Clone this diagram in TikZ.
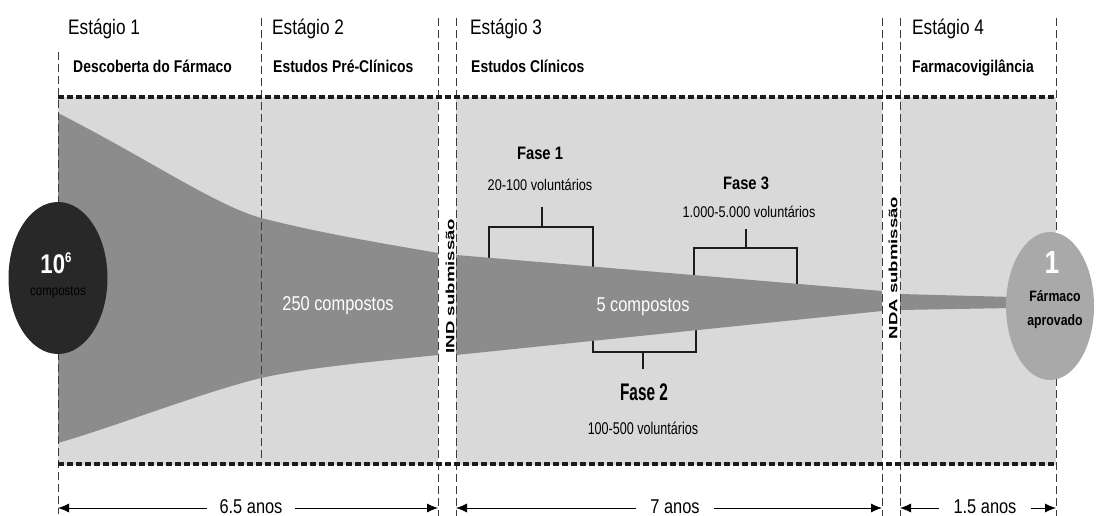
\documentclass[tikz,border=0pt]{standalone}
\usepackage{fontspec}
\setmainfont{Liberation Sans}
\newfontfamily\nar{Liberation Sans}[FakeStretch=0.82]
\newfontfamily\narf{Liberation Sans}[FakeStretch=0.64]
\newfontfamily\narv{Liberation Sans}[FakeStretch=0.74]
\newfontfamily\widebold{Liberation Sans}[FakeStretch=1.55]
\usetikzlibrary{shapes.geometric,arrows.meta}
\definecolor{panelgray}{HTML}{D9D9D9}
\definecolor{funnelgray}{HTML}{8C8C8C}
\definecolor{darkcirc}{HTML}{282828}
\definecolor{lightcirc}{HTML}{A9A9A9}
\definecolor{linedark}{HTML}{1C1C1C}
\definecolor{vline}{HTML}{3A3A3A}
\tikzset{
  panel/.style={fill=panelgray, draw=none},
  funnel/.style={fill=funnelgray, draw=none},
  hdash/.style={draw=linedark, line width=3.2pt, dash pattern=on 6pt off 3pt},
  vdash/.style={draw=vline, line width=0.8pt, dash pattern=on 8pt off 4pt},
  bracket/.style={draw=linedark, line width=2.6pt},
  stagetitle/.style={anchor=base west, inner sep=0pt, font=\nar\fontsize{21}{21}\selectfont},
  stagesub/.style={anchor=base west, inner sep=0pt, font=\nar\bfseries\fontsize{17}{17}\selectfont},
  fase/.style={inner sep=0pt, font=\nar\bfseries\fontsize{18}{18}\selectfont},
  vol/.style={inner sep=0pt, font=\nar\fontsize{15.5}{15.5}\selectfont},
  count/.style={inner sep=0pt, text=white, font=\nar\fontsize{20}{20}\selectfont},
  subm/.style={inner sep=0pt, rotate=90, font=\widebold\bfseries\fontsize{12}{12}\selectfont},
  years/.style={anchor=base, inner xsep=12pt, inner ysep=0pt, text depth=0pt, font=\nar\fontsize{20}{20}\selectfont},
  arr/.style={draw=black, line width=0.8pt, -{Latex[length=11pt,width=9pt]}}
}
\begin{document}
\begin{tikzpicture}[x=1pt,y=-1pt]
\useasboundingbox (0,0) rectangle (1096,516);
% panels
\fill[panel] (58,97) rectangle (438,465);
\fill[panel] (456,97) rectangle (882,465);
\fill[panel] (900,97) rectangle (1056,465);
% brackets
\draw[bracket] (489,285) -- (489,227) -- (593,227) -- (593,285);
\draw[bracket] (542,227) -- (542,207);
\draw[bracket] (694,295) -- (694,248) -- (797,248) -- (797,295);
\draw[bracket] (746,248) -- (746,229);
\draw[bracket] (593,320) -- (593,352) -- (696,352) -- (696,315);
\draw[bracket] (643,352) -- (643,369);
% funnels
\fill[funnel] (58,113) .. controls (150,160) and (215,205) .. (261,218)
  .. controls (320,233) and (380,243) .. (438,253)
  -- (438,355) .. controls (380,361) and (310,367) .. (261,378)
  .. controls (200,393) and (120,425) .. (58,443) -- cycle;
\fill[funnel] (456,255) -- (882,291) -- (882,311) -- (456,355) -- cycle;
\fill[funnel] (900,294) -- (1012,297) -- (1012,308) -- (900,310) -- cycle;
% vertical dashed lines
\draw[vdash] (58,52) -- (58,514);
\draw[vdash] (261,18) -- (261,465);
\draw[vdash] (438,18) -- (438,516);
\draw[vdash] (456,18) -- (456,516);
\draw[vdash] (882,18) -- (882,516);
\draw[vdash] (900,18) -- (900,516);
\draw[vdash] (1056,18) -- (1056,516);
% horizontal dashed lines
\draw[hdash] (58,97) -- (1056,97);
\draw[hdash] (58,464) -- (1056,464);
% circles
\node[ellipse, fill=darkcirc, minimum width=99pt, minimum height=152pt, inner sep=0pt] (start) at (58,278) {};
\node[ellipse, fill=lightcirc, minimum width=88pt, minimum height=148pt, inner sep=0pt] (final) at (1050,306) {};
\node[inner sep=0pt, text=white, font=\nar\bfseries\fontsize{27}{27}\selectfont] (tenexp) at (56,263) {10\raisebox{0.42em}{\fontsize{14}{14}\selectfont 6}};
\node[inner sep=0pt, text=black, font=\nar\fontsize{14}{14}\selectfont] (startlbl) at (58,292) {compostos};
\node[inner sep=0pt, text=white, font=\nar\bfseries\fontsize{32}{32}\selectfont] (one) at (1052,262) {1};
\node[inner sep=0pt, font=\nar\bfseries\fontsize{15}{15}\selectfont] (farm) at (1055,296) {Fármaco};
\node[inner sep=0pt, font=\nar\bfseries\fontsize{15}{15}\selectfont] (aprov) at (1055,322) {aprovado};
% counts
\node[count] (c250) at (338,306) {250 compostos};
\node[count] (c5) at (643,307) {5 compostos};
% submissions
\node[subm] (ind) at (450,286) {IND submissão};
\node[subm] (nda) at (893,268) {NDA submissão};
% headers
\node[stagetitle] (s1) at (68,35) {Estágio 1};
\node[stagesub] (d1) at (73,73) {Descoberta do Fármaco};
\node[stagetitle] (s2) at (272,35) {Estágio 2};
\node[stagesub] (d2) at (273,73) {Estudos Pré-Clínicos};
\node[stagetitle] (s3) at (470,35) {Estágio 3};
\node[stagesub] (d3) at (471,73) {Estudos Clínicos};
\node[stagetitle] (s4) at (912,35) {Estágio 4};
\node[stagesub] (d4) at (912,73) {Farmacovigilância};
% phases
\node[fase] (f1) at (540,153) {Fase 1};
\node[vol] (v1) at (540,185) {20-100 voluntários};
\node[fase] (f3) at (746,183) {Fase 3};
\node[vol] (v3) at (749,212) {1.000-5.000 voluntários};
\node[inner sep=0pt, font=\narf\bfseries\fontsize{24}{24}\selectfont] (f2) at (644,392) {Fase 2};
\node[inner sep=0pt, font=\narv\fontsize{17}{17}\selectfont] (v2) at (643,428) {100-500 voluntários};
% durations
\coordinate (a1l) at (58,508);
\coordinate (a1r) at (438,508);
\coordinate (a2l) at (456,508);
\coordinate (a2r) at (882,508);
\coordinate (a3l) at (900,508);
\coordinate (a3r) at (1056,508);
\node[years] (y1) at (251,513) {6.5 anos};
\node[years, inner xsep=14pt] (y2) at (675,513) {7 anos};
\node[years, inner xsep=14pt] (y3) at (985,513) {1.5 anos};
\draw[arr] (y1.west |- a1l) -- (a1l);
\draw[arr] (y1.east |- a1r) -- (a1r);
\draw[arr] (y2.west |- a2l) -- (a2l);
\draw[arr] (y2.east |- a2r) -- (a2r);
\draw[arr] (y3.west |- a3l) -- (a3l);
\draw[arr] (y3.east |- a3r) -- (a3r);
\end{tikzpicture}
\end{document}
